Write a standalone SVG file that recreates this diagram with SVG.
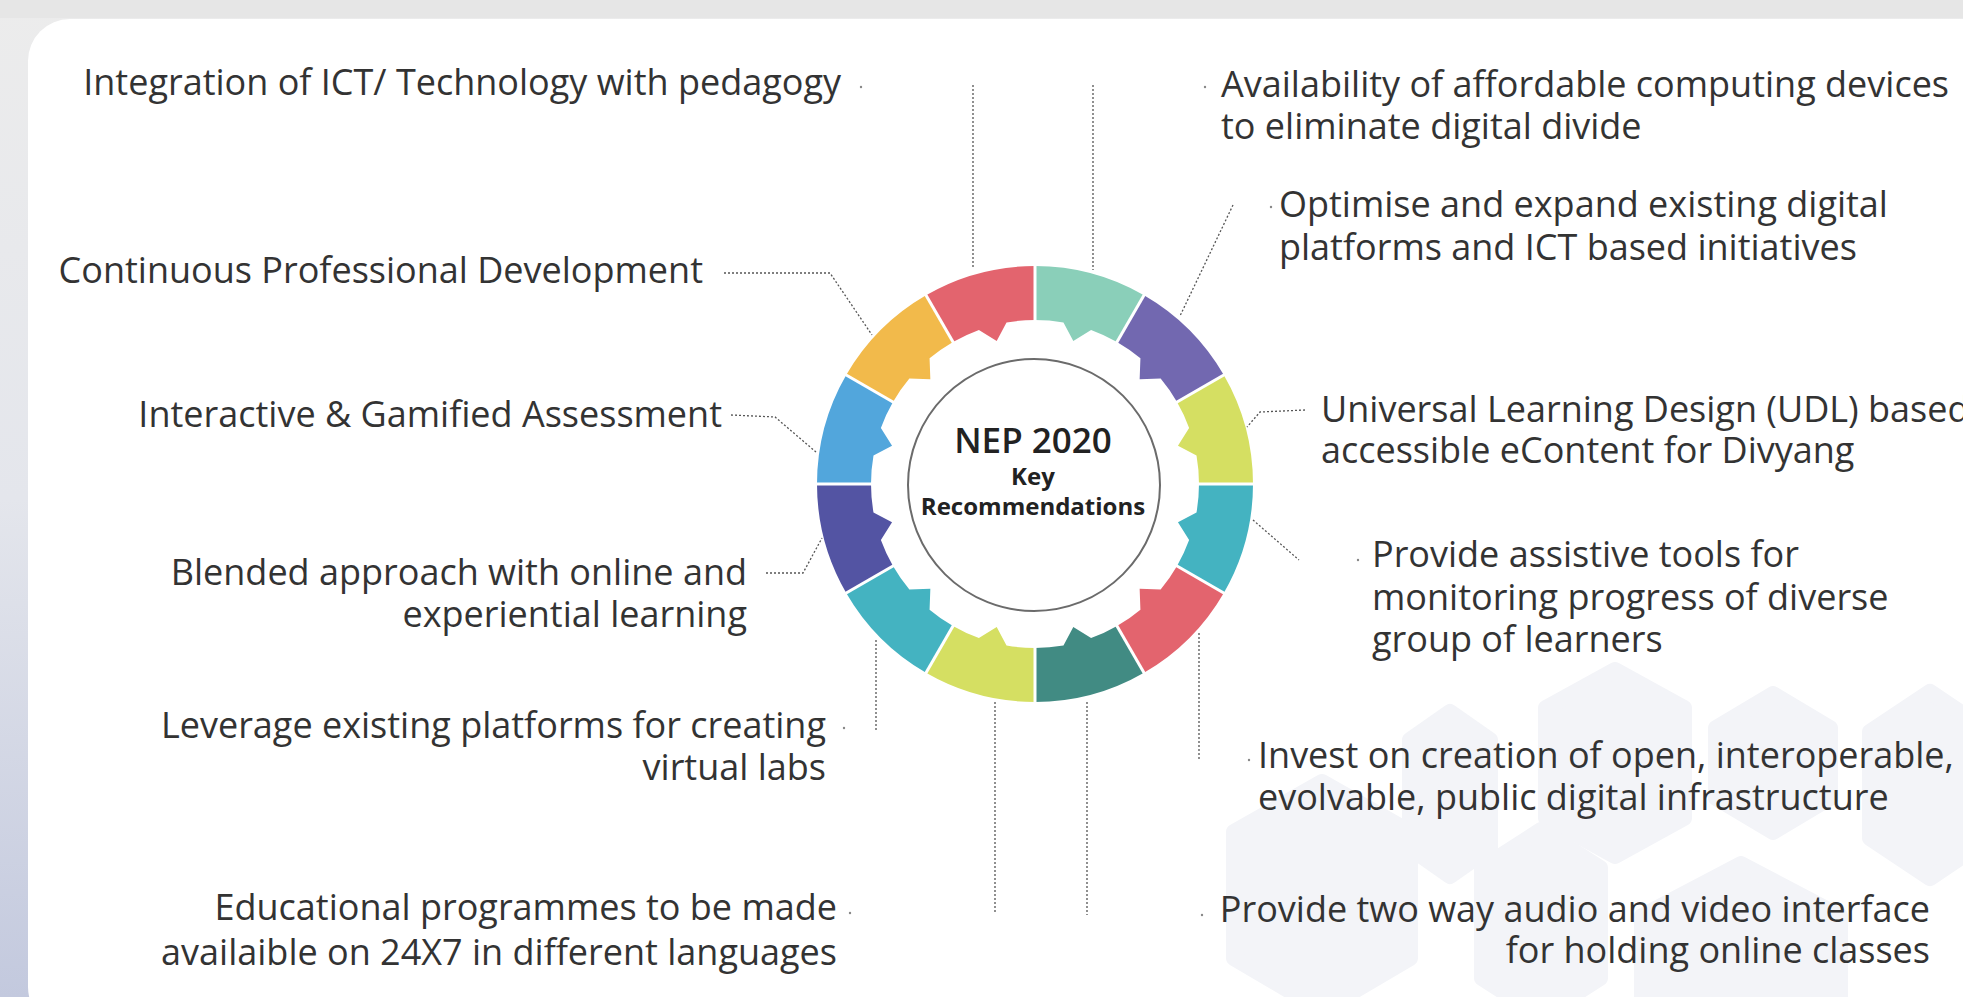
<svg xmlns="http://www.w3.org/2000/svg" xmlns:xlink="http://www.w3.org/1999/xlink" width="1963" height="997" viewBox="0 0 1963 997">
  <style>
    .lbl { font-family: "Open Sans", "Liberation Sans", sans-serif; font-size: 36px; fill: #333333; }
    .end { text-anchor: end; }
    .conn { fill: none; stroke: #555555; stroke-width: 1.3; stroke-dasharray: 2 2; }
    .dot { fill: #888888; }
    .gap { stroke: #ffffff; stroke-width: 3; }
    .hex { fill: #f3f4f8; stroke: #f3f4f8; stroke-width: 16; stroke-linejoin: round; }
    .hub-title { font-family: "Open Sans", "Liberation Sans", sans-serif; font-weight: 600; font-size: 35px; fill: #222222; text-anchor: middle; }
    .hub-sub { font-family: "Open Sans", "Liberation Sans", sans-serif; font-weight: 700; font-size: 24px; fill: #222222; text-anchor: middle; }
  </style>
  <defs>
    <linearGradient id="leftbg" x1="0" y1="0" x2="0" y2="1">
      <stop offset="0" stop-color="#ececec"/>
      <stop offset="0.5" stop-color="#e4e6ec"/>
      <stop offset="1" stop-color="#c3c9de"/>
    </linearGradient>
    <path id="seg" d="M -56.42,-210.57 A 218 218 0 0 1 56.42,-210.57 L 42.45,-158.41 A 164 164 0 0 0 14.29,-163.38 L 0,-148 L -14.29,-163.38 A 164 164 0 0 0 -42.45,-158.41 Z"/>
  </defs>

  <!-- background -->
  <g id="background">
    <rect x="0" y="0" width="1963" height="997" fill="url(#leftbg)"/>
    <rect x="0" y="0" width="1963" height="18" fill="#e6e6e6"/>
    <rect x="28" y="19" width="1990" height="1010" rx="42" ry="42" fill="#ffffff"/>
    <polygon class="hex" points="1450,712 1490,740 1490,848 1450,876 1410,848 1410,740"/>
    <polygon class="hex" points="1615,670 1684,708 1684,818 1615,856 1546,818 1546,708"/>
    <polygon class="hex" points="1773,694 1830,728 1830,798 1773,832 1716,798 1716,728"/>
    <polygon class="hex" points="1930,692 1990,732 1990,838 1930,878 1870,838 1870,732"/>
    <polygon class="hex" points="1322,782 1410,832 1410,958 1322,1010 1234,958 1234,832"/>
    <polygon class="hex" points="1541,830 1600,868 1600,978 1541,1016 1482,978 1482,868"/>
    <polygon class="hex" points="1741,864 1840,916 1840,1010 1741,1060 1642,1010 1642,916"/>
  </g>

  <!-- connectors -->
  <g id="connectors">
    <line class="conn" x1="973" y1="85" x2="973" y2="268"/>
    <line class="conn" x1="1093" y1="85" x2="1093" y2="270"/>
    <polyline class="conn" points="724,273 830,273 872,335"/>
    <polyline class="conn" points="731,415 775,417 816,452"/>
    <polyline class="conn" points="766,573 803,573 822,538"/>
    <line class="conn" x1="876" y1="640" x2="876" y2="730"/>
    <line class="conn" x1="995" y1="702" x2="995" y2="913"/>
    <line class="conn" x1="1087" y1="702" x2="1087" y2="915"/>
    <line class="conn" x1="1199" y1="633" x2="1199" y2="760"/>
    <line class="conn" x1="1253" y1="520" x2="1299" y2="560"/>
    <polyline class="conn" points="1305,410 1260,412 1247,427"/>
    <line class="conn" x1="1233" y1="205" x2="1180" y2="316"/>
    <circle class="dot" cx="861" cy="87" r="1.2"/>
    <circle class="dot" cx="1205" cy="87" r="1.2"/>
    <circle class="dot" cx="1271" cy="207" r="1.2"/>
    <circle class="dot" cx="844" cy="728" r="1.2"/>
    <circle class="dot" cx="850" cy="913" r="1.2"/>
    <circle class="dot" cx="1202" cy="915" r="1.2"/>
    <circle class="dot" cx="1249" cy="760" r="1.2"/>
    <circle class="dot" cx="1358" cy="560" r="1.2"/>
  </g>

  <!-- ring -->
  <g id="ring">
    <use href="#seg" xlink:href="#seg" transform="translate(1035 484) rotate(15)" fill="#8acfb9"/>
    <use href="#seg" xlink:href="#seg" transform="translate(1035 484) rotate(45)" fill="#7268b0"/>
    <use href="#seg" xlink:href="#seg" transform="translate(1035 484) rotate(75)" fill="#d5df62"/>
    <use href="#seg" xlink:href="#seg" transform="translate(1035 484) rotate(105)" fill="#44b3c1"/>
    <use href="#seg" xlink:href="#seg" transform="translate(1035 484) rotate(135)" fill="#e3646e"/>
    <use href="#seg" xlink:href="#seg" transform="translate(1035 484) rotate(165)" fill="#418b83"/>
    <use href="#seg" xlink:href="#seg" transform="translate(1035 484) rotate(195)" fill="#d5df62"/>
    <use href="#seg" xlink:href="#seg" transform="translate(1035 484) rotate(225)" fill="#44b3c1"/>
    <use href="#seg" xlink:href="#seg" transform="translate(1035 484) rotate(255)" fill="#5354a3"/>
    <use href="#seg" xlink:href="#seg" transform="translate(1035 484) rotate(285)" fill="#52a6dc"/>
    <use href="#seg" xlink:href="#seg" transform="translate(1035 484) rotate(315)" fill="#f2ba4b"/>
    <use href="#seg" xlink:href="#seg" transform="translate(1035 484) rotate(345)" fill="#e3646e"/>
    <g transform="translate(1035 484)">
      <line class="gap" x1="0" y1="-140" x2="0" y2="-224" transform="rotate(0)"/>
      <line class="gap" x1="0" y1="-140" x2="0" y2="-224" transform="rotate(30)"/>
      <line class="gap" x1="0" y1="-140" x2="0" y2="-224" transform="rotate(60)"/>
      <line class="gap" x1="0" y1="-140" x2="0" y2="-224" transform="rotate(90)"/>
      <line class="gap" x1="0" y1="-140" x2="0" y2="-224" transform="rotate(120)"/>
      <line class="gap" x1="0" y1="-140" x2="0" y2="-224" transform="rotate(150)"/>
      <line class="gap" x1="0" y1="-140" x2="0" y2="-224" transform="rotate(180)"/>
      <line class="gap" x1="0" y1="-140" x2="0" y2="-224" transform="rotate(210)"/>
      <line class="gap" x1="0" y1="-140" x2="0" y2="-224" transform="rotate(240)"/>
      <line class="gap" x1="0" y1="-140" x2="0" y2="-224" transform="rotate(270)"/>
      <line class="gap" x1="0" y1="-140" x2="0" y2="-224" transform="rotate(300)"/>
      <line class="gap" x1="0" y1="-140" x2="0" y2="-224" transform="rotate(330)"/>
    </g>
  </g>

  <!-- hub -->
  <g id="hub">
    <circle cx="1034" cy="485" r="126" fill="#ffffff" stroke="#6b6b6b" stroke-width="2"/>
    <text class="hub-title" x="1033" y="453">NEP 2020</text>
    <text class="hub-sub" x="1033" y="485">Key</text>
    <text class="hub-sub" x="1033" y="515">Recommendations</text>
  </g>

  <!-- left labels -->
  <g id="label-integration"><text class="lbl end" x="841" y="95">Integration of ICT/ Technology with pedagogy</text></g>
  <g id="label-cpd"><text class="lbl end" x="703" y="283">Continuous Professional Development</text></g>
  <g id="label-assessment"><text class="lbl end" x="722" y="427">Interactive &amp; Gamified Assessment</text></g>
  <g id="label-blended">
    <text class="lbl end" x="747" y="585">Blended approach with online and</text>
    <text class="lbl end" x="747" y="627">experiential learning</text>
  </g>
  <g id="label-virtual-labs">
    <text class="lbl end" x="826" y="738">Leverage existing platforms for creating</text>
    <text class="lbl end" x="826" y="780">virtual labs</text>
  </g>
  <g id="label-educational">
    <text class="lbl end" x="837" y="920">Educational programmes to be made</text>
    <text class="lbl end" x="837" y="965">availaible on 24X7 in different languages</text>
  </g>

  <!-- right labels -->
  <g id="label-devices">
    <text class="lbl" x="1221" y="97">Availability of affordable computing devices</text>
    <text class="lbl" x="1221" y="139">to eliminate digital divide</text>
  </g>
  <g id="label-optimise">
    <text class="lbl" x="1279" y="217">Optimise and expand existing digital</text>
    <text class="lbl" x="1279" y="260">platforms and ICT based initiatives</text>
  </g>
  <g id="label-udl">
    <text class="lbl" x="1321" y="422">Universal Learning Design (UDL) based</text>
    <text class="lbl" x="1321" y="463">accessible eContent for Divyang</text>
  </g>
  <g id="label-assistive">
    <text class="lbl" x="1372" y="567">Provide assistive tools for</text>
    <text class="lbl" x="1372" y="610">monitoring progress of diverse</text>
    <text class="lbl" x="1372" y="652">group of learners</text>
  </g>
  <g id="label-infrastructure">
    <text class="lbl" x="1258" y="768">Invest on creation of open, interoperable,</text>
    <text class="lbl" x="1258" y="810">evolvable, public digital infrastructure</text>
  </g>
  <g id="label-av">
    <text class="lbl end" x="1930" y="922">Provide two way audio and video interface</text>
    <text class="lbl end" x="1930" y="963">for holding online classes</text>
  </g>
</svg>
